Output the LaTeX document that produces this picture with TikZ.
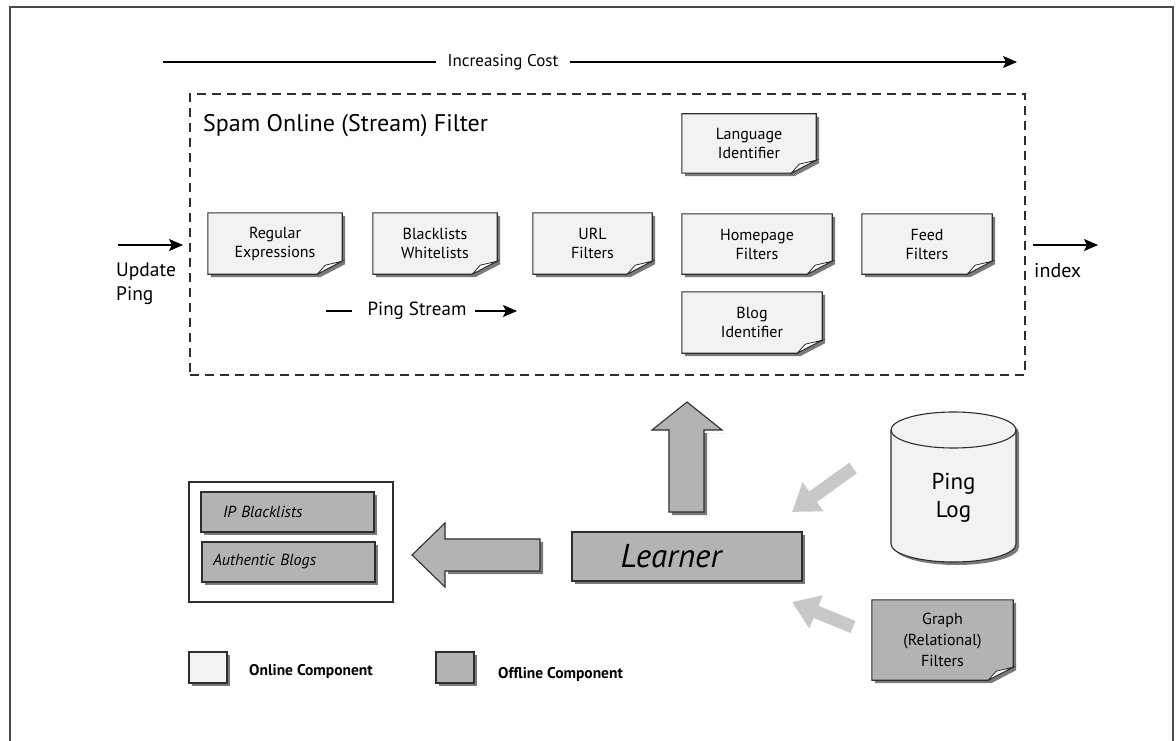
\documentclass[tikz,border=0pt]{standalone}
\usepackage{fontspec}
\setmainfont{PT Sans}
\usetikzlibrary{arrows.meta,positioning,shadows,backgrounds}
\definecolor{onlinefill}{HTML}{F2F2F2}
\definecolor{offlinefill}{HTML}{B3B3B3}
\definecolor{cardshadow}{HTML}{7A7A7A}
\definecolor{feedarrow}{HTML}{C8C8C8}
\definecolor{inkline}{HTML}{2E2E2E}
\definecolor{framegray}{HTML}{4A4A4A}

% A filter card whose lower right corner is curled up.
% #1 is the (empty) node that fixes the card, #2 its fill.
\newcommand{\curlcard}[2]{%
  \begin{scope}[on background layer]
    \fill[cardshadow]
      ([shift={(3pt,-3pt)}]#1.north west) -- ([shift={(3pt,-3pt)}]#1.north east)
      -- ([shift={(3pt,10pt)}]#1.south east) -- ([shift={(-22pt,-3pt)}]#1.south east)
      -- ([shift={(3pt,-3pt)}]#1.south west) -- cycle;
    \filldraw[fill=#2,draw=inkline,line width=1.1pt]
      (#1.north west) -- (#1.north east) -- ([yshift=13pt]#1.south east)
      .. controls ([shift={(-10pt,8pt)}]#1.south east) .. ([xshift=-25pt]#1.south east)
      -- (#1.south west) -- cycle;
    \filldraw[fill=white,draw=inkline,line width=0.8pt]
      ([xshift=-25pt]#1.south east) -- ([shift={(-17pt,9pt)}]#1.south east)
      -- ([yshift=13pt]#1.south east)
      .. controls ([shift={(-10pt,8pt)}]#1.south east) .. cycle;
  \end{scope}}

\begin{document}
\begin{tikzpicture}[x=1pt,y=-1pt,
    every node/.style={inner sep=0pt},
    cardtext/.style={align=center,font=\fontsize{16}{19}\selectfont},
    thinline/.style={line width=1.3pt,draw=black},
    thinarrow/.style={thinline,-{Stealth[length=14pt,width=12pt,inset=3pt]}},
    feed/.style={line width=13pt,draw=feedarrow,-{Triangle[length=26pt,width=34pt]}},
    blockarrow/.style={fill=offlinefill,draw=inkline,line width=1.1pt},
    boxshadow/.style={drop shadow={shadow xshift=3pt,shadow yshift=-3pt,
      shadow scale=1,fill=cardshadow,opacity=1}},
    offline/.style={draw=inkline,fill=offlinefill,line width=1.1pt,boxshadow},
    online/.style={draw=inkline,fill=onlinefill,line width=1.1pt,boxshadow}]
  \useasboundingbox (0,0) rectangle (1176,741);

  % page frame, open at the bottom
  \draw[line width=2pt,framegray] (10,760) -- (10,7) -- (1173,7) -- (1173,760);

  % cost axis
  \node[font=\fontsize{17}{20}\selectfont] (cost) at (503,62) {Increasing Cost};
  \coordinate (costtail) at (163,62);
  \coordinate (costhead) at (1017,62);
  \draw[thinline] (costtail) -- ([xshift=-12pt]cost.west);
  \draw[thinarrow] ([xshift=12pt]cost.east) -- (costhead);

  % the online stream filter
  \node[draw=inkline,line width=1.1pt,dash pattern=on 9pt off 6pt,
        minimum width=835pt,minimum height=281pt] (stream) at (607.5,234.5) {};
  \node[anchor=west,font=\fontsize{24}{28}\selectfont] (title) at (203,126)
    {Spam Online (Stream) Filter};

  \node[cardtext,minimum width=134pt,minimum height=61pt] (regex) at (275,243.5)
    {Regular\\Expressions};
  \node[cardtext,minimum width=124pt,minimum height=61pt] (lists) at (435,243.5)
    {Blacklists\\Whitelists};
  \node[cardtext,minimum width=119pt,minimum height=61pt] (url) at (592.5,243.5)
    {URL\\Filters};
  \node[cardtext,minimum width=134pt,minimum height=59pt] (lang) at (749,143.5)
    {Language\\Identifier};
  \node[cardtext,minimum width=150pt,minimum height=60pt] (home) at (757,244)
    {Homepage\\Filters};
  \node[cardtext,minimum width=130pt,minimum height=60pt] (feedf) at (927,244)
    {Feed\\Filters};
  \node[cardtext,minimum width=140pt,minimum height=61pt] (blog) at (752,322.5)
    {Blog\\Identifier};
  \curlcard{regex}{onlinefill}
  \curlcard{lists}{onlinefill}
  \curlcard{url}{onlinefill}
  \curlcard{lang}{onlinefill}
  \curlcard{home}{onlinefill}
  \curlcard{feedf}{onlinefill}
  \curlcard{blog}{onlinefill}

  % ping stream marker
  \node[font=\fontsize{19}{22}\selectfont] (pingstream) at (417,311) {Ping Stream};
  \coordinate (streamtail) at (326,311);
  \coordinate (streamhead) at (517,311);
  \draw[thinline] (streamtail) -- ([xshift=-15pt]pingstream.west);
  \draw[thinarrow] ([xshift=8pt]pingstream.east) -- (streamhead);

  % input and output of the stream
  \coordinate (pingin) at (118,245);
  \coordinate (pinginhead) at (183,245);
  \draw[thinarrow] (pingin) -- (pinginhead);
  \node[anchor=north west,align=left,font=\fontsize{19.5}{24}\selectfont] (update)
    at (116,263) {Update\\Ping};
  \coordinate (indexout) at (1033,245);
  \coordinate (indexhead) at (1098,245);
  \draw[thinarrow] (indexout) -- (indexhead);
  \node[anchor=base west,font=\fontsize{20}{24}\selectfont] (index) at (1034,277) {index};

  % offline part
  \node[offline,minimum width=230pt,minimum height=49pt,font=\fontsize{33}{36}\selectfont\itshape]
    (learner) at (687,556.5) {Learner\hspace*{32pt}};

  \node[draw=inkline,fill=white,line width=1.1pt,minimum width=204pt,minimum height=120pt]
    (store) at (291,542) {};
  \node[offline,minimum width=173pt,minimum height=40pt,text width=173pt,align=left,
        font=\fontsize{16}{19}\selectfont\itshape] (ipbl) at (287.5,512)
    {\hspace*{22pt}IP Blacklists};
  \node[offline,minimum width=173pt,minimum height=40pt,text width=173pt,align=left,
        font=\fontsize{16}{19}\selectfont\itshape] (auth) at (288.5,562)
    {\hspace*{11pt}Authentic Blogs};

  % learner feeds the stream filter
  \coordinate (uptip) at (687,402);
  \begin{scope}[shift={(uptip)}]
    \fill[cardshadow] (-15,113) -- (-15,31) -- (39,31) -- (20,31) -- (20,113) -- cycle;
    \draw[blockarrow] (-18,110) -- (-18,28) -- (-35,28) -- (0,0) -- (35,28) -- (17,28)
      -- (17,110) -- cycle;
  \end{scope}
  % learner fills the lists
  \coordinate (lefttip) at (412,555);
  \begin{scope}[shift={(lefttip)}]
    \fill[cardshadow] (36,19) -- (131,19) -- (131,-13) -- (128,-13) -- (128,16) -- (36,16) -- cycle;
    \draw[blockarrow] (0,0) -- (33,-32) -- (33,-16) -- (128,-16) -- (128,16) -- (33,16)
      -- (33,32) -- cycle;
  \end{scope}

  % ping log store
  \fill[cardshadow] (894,433) -- (894,547)
    arc[start angle=180,end angle=360,x radius=62.5pt,y radius=18pt]
    -- (1019,433) arc[start angle=0,end angle=180,x radius=62.5pt,y radius=18pt] -- cycle;
  \filldraw[fill=onlinefill,draw=inkline,line width=1.1pt] (891,430) -- (891,544)
    arc[start angle=180,end angle=360,x radius=62.5pt,y radius=18pt]
    -- (1016,430) arc[start angle=0,end angle=180,x radius=62.5pt,y radius=18pt] -- cycle;
  \draw[inkline,line width=1.1pt] (891,430)
    arc[start angle=180,end angle=360,x radius=62.5pt,y radius=18pt];
  \node[align=center,font=\fontsize{23}{28}\selectfont] (pinglog) at (953.5,498) {Ping\\Log};

  \node[cardtext,minimum width=141pt,minimum height=80pt,font=\fontsize{16}{21}\selectfont]
    (graph) at (942.5,640) {Graph\\(Relational)\\Filters};
  \curlcard{graph}{offlinefill}

  \coordinate (logfoot) at (853,468);
  \coordinate (logtip) at (792,512);
  \draw[feed] (logfoot) -- (logtip);
  \coordinate (graphfoot) at (853,627);
  \coordinate (graphtip) at (792,602);
  \draw[feed] (graphfoot) -- (graphtip);

  % legend
  \node[online,minimum width=38pt,minimum height=31pt] (onkey) at (208,667.5) {};
  \node[anchor=west,font=\fontsize{15.5}{18}\selectfont\bfseries] (ontext) at (249,672)
    {Online Component};
  \node[offline,minimum width=38pt,minimum height=31pt] (offkey) at (455,667.5) {};
  \node[anchor=west,font=\fontsize{15.5}{18}\selectfont\bfseries] (offtext) at (498,675)
    {Offline Component};
\end{tikzpicture}
\end{document}
